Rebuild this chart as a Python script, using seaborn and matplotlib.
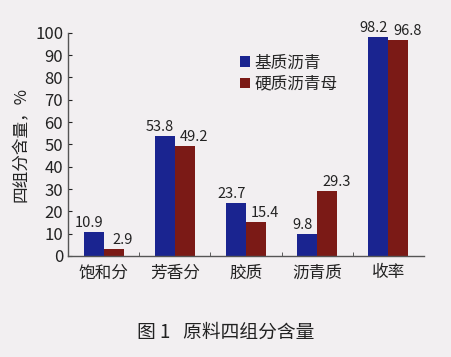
import pandas as pd
import seaborn as sns
import matplotlib.pyplot as plt
import numpy as np
from matplotlib.ticker import FixedLocator

# Data
categories = ['饱和分', '芳香分', '胶质', '沥青质', '收率']
base_asphalt = [10.9, 53.8, 23.7, 9.8, 98.2]
hard_asphalt = [2.9, 49.2, 15.4, 29.3, 96.8]
series_names = ['基质沥青', '硬质沥青母']

df = pd.DataFrame({
    'cat': categories * 2,
    'val': base_asphalt + hard_asphalt,
    'series': [series_names[0]] * 5 + [series_names[1]] * 5,
})

sns.set_style('ticks')
plt.rcParams['font.family'] = ['Noto Sans CJK SC', 'DejaVu Sans']

bg = '#f2eff1'
fig = plt.figure(figsize=(4.51, 3.57), dpi=100, facecolor=bg)
ax = fig.add_axes([0.151, 0.283, 0.789, 0.625], facecolor=bg)

sns.barplot(data=df, x='cat', y='val', hue='series', ax=ax,
            palette=['#1a2490', '#7b1a16'], width=0.56, saturation=1,
            edgecolor='none')

# value labels, blue slightly left, red pushed right (like the original)
shifts = [-3.5, 6.5]
for cont, dx in zip(ax.containers, shifts):
    for bar in cont:
        h = bar.get_height()
        ax.annotate(f'{h:.1f}', (bar.get_x() + bar.get_width() / 2, h),
                    xytext=(dx, 1.5), textcoords='offset points',
                    ha='center', va='bottom', fontsize=10.5, color='#222222')

ax.set_ylim(0, 100)
ax.set_xlim(-0.5, 4.5)
ax.set_yticks(np.arange(0, 101, 10))
ax.tick_params(axis='y', direction='in', length=3, labelsize=12, colors='#222222')
ax.tick_params(axis='x', length=0, labelsize=12, colors='#222222', pad=6)
ax.xaxis.set_minor_locator(FixedLocator([0.5, 1.5, 2.5, 3.5]))
ax.tick_params(axis='x', which='minor', direction='in', length=3, color='#444444')
ax.set_xlabel('')
ax.set_ylabel('四组分含量，%', fontsize=12, color='#222222', labelpad=4)

for s in ['top', 'right']:
    ax.spines[s].set_visible(False)
for s in ['left', 'bottom']:
    ax.spines[s].set_color('#555555')
    ax.spines[s].set_linewidth(1)

leg = ax.legend(loc='upper left', bbox_to_anchor=(0.44, 0.97), frameon=False,
                fontsize=12, handlelength=0.6, handleheight=0.6,
                handletextpad=0.3, labelspacing=0.25)

fig.text(0.5, 0.055, '图 1   原料四组分含量', ha='center', fontsize=13.5, color='#222222')

fig.savefig('out.png', dpi=100, facecolor=bg)
